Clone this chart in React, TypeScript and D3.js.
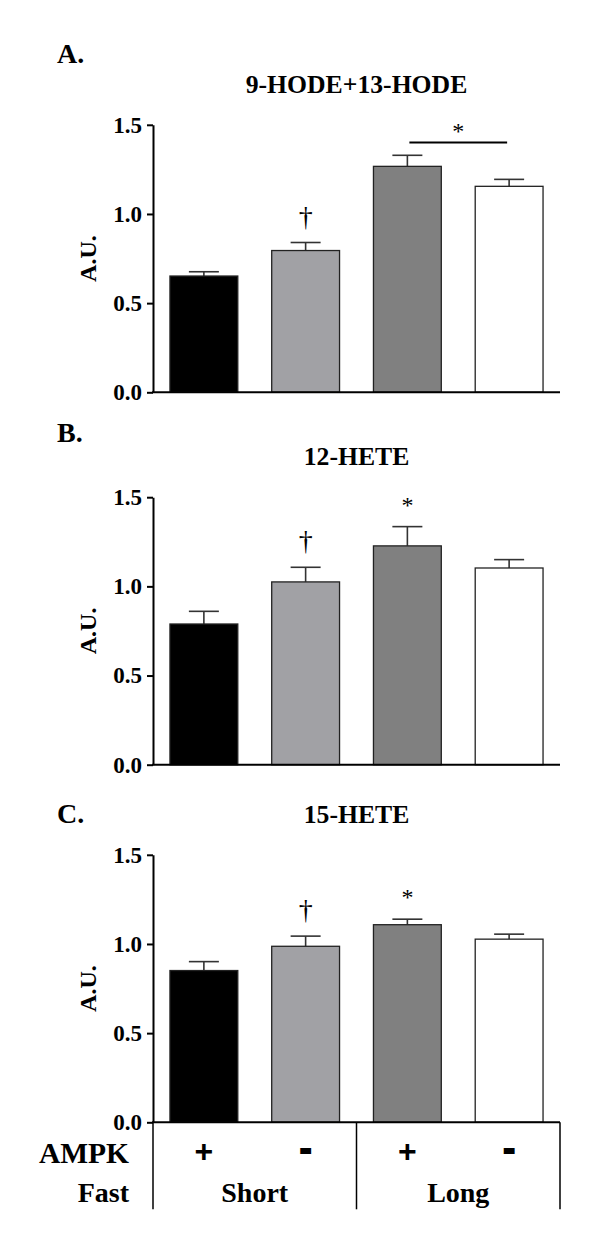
import { useEffect, useRef } from "react";
import * as d3 from "d3";

// groups along the x axis
const ampk = ["+", "-", "+", "-"];
const fast = ["Short", "Short", "Long", "Long"];
const fastGroups = ["Short", "Long"];

// panel A: 9-HODE+13-HODE
const hodeMean = [0.652, 0.795, 1.267, 1.155];
const hodeSem = [0.024, 0.045, 0.062, 0.039];
// panel B: 12-HETE
const hete12Mean = [0.789, 1.025, 1.227, 1.103];
const hete12Sem = [0.071, 0.082, 0.108, 0.047];
// panel C: 15-HETE
const hete15Mean = [0.851, 0.987, 1.108, 1.027];
const hete15Sem = [0.05, 0.057, 0.031, 0.028];

const panelLabels = ["A.", "B.", "C."];
const panelTitles = ["9-HODE+13-HODE", "12-HETE", "15-HETE"];
const yTicks = [0, 0.5, 1.0, 1.5];

// significance marks: [panel, bar]; bracket: [panel, barA, barB]
const daggers = [[0, 1], [1, 1], [2, 1]];
const stars = [[1, 2], [2, 2]];
const bracketStars = [[0, 2, 3]];

const barFill = ["#000000", "#a1a1a5", "#808080", "#ffffff"];

const W = 603;
const H = 1235;
const left = 153;
const right = 560;
// per panel: y of value 0, label baseline, title baseline
const panelZero = [392.3, 764.7, 1122.3];
const labelBase = [63, 442, 823];
const titleBase = [93, 465, 823];
const plotH = 267.5;

const serif = "'Liberation Serif', 'Times New Roman', serif";
const sans = "'Liberation Sans', Arial, sans-serif";

export default function App() {
  const ref = useRef<SVGSVGElement>(null);

  useEffect(() => {
    const svg = d3.select(ref.current);
    svg.selectAll("*").remove();

    const x = d3.scaleBand<number>()
      .domain(d3.range(4))
      .range([left, right])
      .paddingInner(1 / 3)
      .paddingOuter(1 / 6);

    const means = [hodeMean, hete12Mean, hete15Mean];
    const sems = [hodeSem, hete12Sem, hete15Sem];

    means.forEach((m, p) => {
      const y = d3.scaleLinear().domain([0, 1.5]).range([panelZero[p], panelZero[p] - plotH]);
      const g = svg.append("g");
      const errTop = (i: number) => y(m[i] + sems[p][i]);

      g.append("text")
        .attr("x", 57).attr("y", labelBase[p])
        .attr("font-family", serif).attr("font-weight", "bold").attr("font-size", 28)
        .text(panelLabels[p]);

      g.append("text")
        .attr("x", (left + right) / 2).attr("y", titleBase[p])
        .attr("text-anchor", "middle")
        .attr("font-family", serif).attr("font-weight", "bold").attr("font-size", 25.7)
        .text(panelTitles[p]);

      // y axis title
      g.append("text")
        .attr("transform", `translate(96,${(y(0) + y(1.5)) / 2}) rotate(-90)`)
        .attr("text-anchor", "middle")
        .attr("font-family", serif).attr("font-weight", "bold").attr("font-size", 24)
        .text("A.U.");

      // error bars (upper only)
      const eb = g.append("g").attr("stroke", "#333").attr("stroke-width", 1.6);
      m.forEach((v, i) => {
        const cx = x(i)! + x.bandwidth() / 2;
        eb.append("line").attr("x1", cx).attr("x2", cx).attr("y1", y(v)).attr("y2", errTop(i));
        eb.append("line").attr("x1", cx - 15).attr("x2", cx + 15).attr("y1", errTop(i)).attr("y2", errTop(i));
      });

      g.append("g")
        .selectAll("rect")
        .data(m)
        .join("rect")
        .attr("x", (_, i) => x(i)!)
        .attr("y", d => y(d))
        .attr("width", x.bandwidth())
        .attr("height", d => y(0) - y(d))
        .attr("fill", (_, i) => barFill[i])
        .attr("stroke", "#222")
        .attr("stroke-width", 1.3);

      // axes
      const yAxis = g.append("g")
        .attr("transform", `translate(${left},0)`)
        .call(d3.axisLeft(y).tickValues(yTicks).tickFormat(d3.format(".1f")).tickSize(6).tickSizeOuter(0).tickPadding(5));
      yAxis.select(".domain").attr("stroke", "#000").attr("stroke-width", 2);
      yAxis.selectAll(".tick line").attr("stroke", "#000").attr("stroke-width", 2);
      yAxis.selectAll(".tick text")
        .attr("font-family", serif).attr("font-weight", "bold").attr("font-size", 23).attr("fill", "#000");

      g.append("line")
        .attr("x1", left - 1).attr("x2", right)
        .attr("y1", y(0)).attr("y2", y(0))
        .attr("stroke", "#000").attr("stroke-width", 2);

      // significance marks
      daggers.filter(d => d[0] === p).forEach(([, i]) => {
        g.append("text")
          .attr("x", x(i)! + x.bandwidth() / 2).attr("y", errTop(i) - 17)
          .attr("text-anchor", "middle")
          .attr("font-family", serif).attr("font-size", 28)
          .text("\u2020");
      });
      stars.filter(d => d[0] === p).forEach(([, i]) => {
        g.append("text")
          .attr("x", x(i)! + x.bandwidth() / 2).attr("y", errTop(i) - 14)
          .attr("text-anchor", "middle")
          .attr("font-family", serif).attr("font-size", 24)
          .text("*");
      });
      bracketStars.filter(d => d[0] === p).forEach(([, a, b]) => {
        const ly = Math.min(errTop(a), errTop(b)) - 12.7;
        const x1 = x(a)! + x.bandwidth() / 2;
        const x2 = x(b)! + x.bandwidth() / 2;
        g.append("line")
          .attr("x1", x1 + 2).attr("x2", x2 - 2).attr("y1", ly).attr("y2", ly)
          .attr("stroke", "#000").attr("stroke-width", 2);
        g.append("text")
          .attr("x", (x1 + x2) / 2).attr("y", ly - 4)
          .attr("text-anchor", "middle")
          .attr("font-family", serif).attr("font-size", 24)
          .text("*");
      });

      // condition table under the last panel
      if (p === means.length - 1) {
        const t = g.append("g");
        const yb = y(0);
        const bottom = yb + 87;
        const splits = [left, x(2)! - x.step() * x.paddingInner() / 2, right];
        splits.forEach(sx => {
          t.append("line").attr("x1", sx).attr("x2", sx).attr("y1", yb).attr("y2", bottom)
            .attr("stroke", "#000").attr("stroke-width", 1.5);
        });
        t.append("text").attr("x", 129).attr("y", yb + 40.5)
          .attr("text-anchor", "end")
          .attr("font-family", serif).attr("font-weight", "bold").attr("font-size", 29.5)
          .text("AMPK");
        t.append("text").attr("x", 129).attr("y", yb + 80)
          .attr("text-anchor", "end")
          .attr("font-family", serif).attr("font-weight", "bold").attr("font-size", 28)
          .text("Fast");
        ampk.forEach((s, i) => {
          t.append("text")
            .attr("x", x(i)! + x.bandwidth() / 2)
            .attr("y", s === "+" ? yb + 40 : yb + 38)
            .attr("text-anchor", "middle")
            .attr("font-family", sans).attr("font-weight", "bold")
            .attr("font-size", s === "+" ? 32 : 34)
            .attr("stroke", s === "+" ? "none" : "#000")
            .attr("stroke-width", 2.2)
            .text(s);
        });
        fastGroups.forEach(f => {
          const idx = fast.map((v, i) => (v === f ? i : -1)).filter(i => i >= 0);
          const cx = (x(idx[0])! + x(idx[idx.length - 1])! + x.bandwidth()) / 2;
          t.append("text").attr("x", cx).attr("y", yb + 80)
            .attr("text-anchor", "middle")
            .attr("font-family", serif).attr("font-weight", "bold").attr("font-size", 28)
            .text(f);
        });
      }
    });
  }, []);

  return (
    <svg
      ref={ref}
      width={W}
      height={H}
      viewBox={`0 0 ${W} ${H}`}
      style={{ position: "absolute", left: 0, top: 0, background: "#fff" }}
    />
  );
}
